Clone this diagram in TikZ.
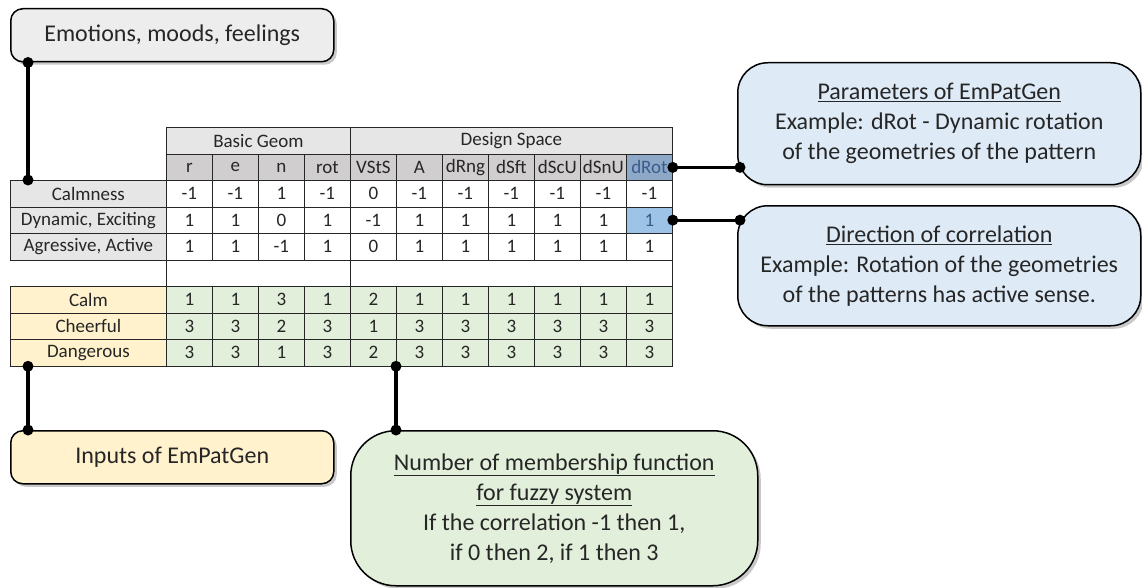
\documentclass[tikz,border=0pt]{standalone}
\usepackage{fontspec}
\setmainfont{Carlito}
\usetikzlibrary{shadows,calc}
\definecolor{hdrA}{HTML}{E7E6E6}
\definecolor{hdrB}{HTML}{D0CECE}
\definecolor{lbl}{HTML}{E7E6E6}
\definecolor{yel}{HTML}{FFF2CC}
\definecolor{grn}{HTML}{E2EFDA}
\definecolor{blu}{HTML}{DEEBF7}
\definecolor{emog}{HTML}{EDEDED}
\definecolor{steel}{HTML}{8EA9C8}
\definecolor{lblue}{HTML}{9DC3E6}
\definecolor{bltext}{HTML}{3A5C8C}
\definecolor{txt}{HTML}{262626}
\begin{document}
\begin{tikzpicture}[x=1pt,y=-1pt,
  cell/.style={draw=black!85, line width=0.8pt, inner sep=0pt, minimum width=46pt,
    minimum height=26.5pt, anchor=north west, font=\fontsize{19}{19}\selectfont, text=txt},
  bubble/.style={draw=black, line width=1.5pt, rounded corners=#1, inner sep=0pt,
    anchor=north west, align=center, font=\fontsize{24}{30}\selectfont, text=txt,
    drop shadow={shadow xshift=3pt, shadow yshift=-3pt, opacity=0.3, fill=black!70}},
  conn/.style={line width=3.2pt, black},
  dot/.style={black}
]
\useasboundingbox (0,0) rectangle (1142,588);

% ---------- header rows
\node[cell, fill=hdrA, minimum width=184pt, minimum height=27pt] (bg) at (166,127) {Basic Geom};
\node[cell, fill=hdrA, minimum width=322pt, minimum height=27pt] (ds) at (350,127) {Design Space};
\foreach \n [count=\i] in {r,e,n,rot,VStS,A,dRng,dSft,dScU,dSnU}
  \node[cell, fill=hdrB, minimum height=26pt] (h\i) at ({166+46*(\i-1)},154) {\n};
\node[cell, fill=steel, minimum height=26pt, text=bltext] (h11) at (626,154) {dRot};

% ---------- correlation rows
\foreach \lab/\r/\y/\vals in {
  Calmness/1/180/{-1,-1,1,-1,0,-1,-1,-1,-1,-1,-1},
  {Dynamic, Exciting}/2/206.5/{1,1,0,1,-1,1,1,1,1,1,1},
  {Agressive, Active}/3/233/{1,1,-1,1,0,1,1,1,1,1,1}}{
  \node[cell, fill=lbl, minimum width=156pt] (lab\r) at (10,\y) {\lab};
  \foreach \v [count=\j] in \vals
    \node[cell, fill=white] (d\r-\j) at ({166+46*(\j-1)},\y) {\v};
}
\node[cell, fill=lblue, text=bltext] (d2-11x) at (626,206.5) {1};

% ---------- empty row
\node[cell, fill=white, minimum width=184pt] (eA) at (166,259.5) {};
\node[cell, fill=white, minimum width=322pt] (eB) at (350,259.5) {};

% ---------- membership rows
\foreach \lab/\r/\y/\vals in {
  Calm/4/286/{1,1,3,1,2,1,1,1,1,1,1},
  Cheerful/5/312.5/{3,3,2,3,1,3,3,3,3,3,3},
  Dangerous/6/339/{3,3,1,3,2,3,3,3,3,3,3}}{
  \node[cell, fill=yel, minimum width=156pt] (lab\r) at (10,\y) {\lab};
  \foreach \v [count=\j] in \vals
    \node[cell, fill=grn] (d\r-\j) at ({166+46*(\j-1)},\y) {\v};
}

% ---------- callouts
\node[bubble=12pt, fill=emog, minimum width=323pt, minimum height=53pt] (emo) at (10,8)
  {Emotions, moods, feelings};
\node[bubble=30pt, fill=blu, minimum width=403pt, minimum height=122pt] (par) at (737,62)
  {\underline{Parameters of EmPatGen}\\Example: dRot - Dynamic rotation\\of the geometries of the pattern};
\node[bubble=30pt, fill=blu, minimum width=403pt, minimum height=120pt] (dir) at (737,205)
  {\underline{Direction of correlation}\\Example: Rotation of the geometries\\of the patterns has active sense.};
\node[bubble=12pt, fill=yel, minimum width=323pt, minimum height=53pt] (inp) at (10,430)
  {Inputs of EmPatGen};
\node[bubble=45pt, fill=grn, minimum width=407pt, minimum height=155pt] (num) at (350,430)
  {\underline{Number of membership function}\\\underline{for fuzzy system}\\If the correlation -1 then 1,\\if 0 then 2, if 1 then 3};

% ---------- connector end points
\coordinate (e1) at ($(emo.south west)+(18,0)$);
\coordinate (e2) at ($(lab1.north west)+(18,0)$);
\coordinate (p1) at (h11.east);
\coordinate (p2) at ($(p1 -| par.west)+(3,0)$);
\coordinate (q1) at (d2-11x.east);
\coordinate (q2) at ($(q1 -| dir.west)+(3,0)$);
\coordinate (i1) at ($(lab6.south west)+(18,0)$);
\coordinate (i2) at ($(inp.north west)+(18,0)$);
\coordinate (n1) at (d6-6.south west);
\coordinate (n2) at ($(num.north west)+(46,0)$);

\foreach \a/\b in {e1/e2,p1/p2,q1/q2,i1/i2,n1/n2}{
  \draw[conn] (\a) -- (\b);
  \fill[dot] (\a) circle (5.5pt);
  \fill[dot] (\b) circle (5.5pt);
}
\end{tikzpicture}
\end{document}
